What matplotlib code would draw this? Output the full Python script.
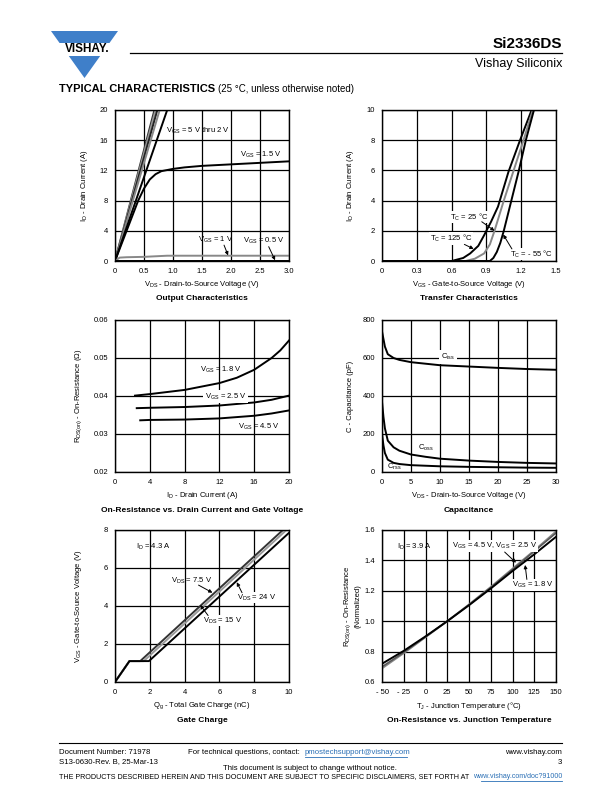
import numpy as np
import matplotlib.pyplot as plt
from matplotlib.patches import Polygon, Rectangle

plt.rcParams['font.family'] = ['Liberation Sans', 'DejaVu Sans']
plt.rcParams['mathtext.fontset'] = 'custom'
plt.rcParams['mathtext.rm'] = 'Liberation Sans'

# ---- Output characteristics ----
out_vds_lines = [[0, 0.68], [0, 0.70], [0, 0.73], [0, 0.77], [0, 0.90]]
out_id_lines = [[0, 20], [0, 20], [0, 20], [0, 20], [0, 20]]
out_line_colors = ['#333333', '#999999', '#222222', '#888888', '#000000']
out_vds_15 = [0, 0.1, 0.2, 0.3, 0.4, 0.5, 0.6, 0.7, 0.8, 0.9, 1.0, 1.2, 1.5, 2.0, 2.5, 3.0]
out_id_15 = [0, 2, 4, 6, 8, 9.6, 10.8, 11.5, 11.9, 12.05, 12.2, 12.4, 12.6, 12.8, 13.0, 13.2]
out_vds_1 = [0, 0.08, 0.2, 0.5, 0.9, 1.0, 3.0]
out_id_1 = [0, 0.45, 0.5, 0.55, 0.7, 0.7, 0.7]
out_vds_05 = [0, 3.0]
out_id_05 = [0.03, 0.03]

# ---- Transfer characteristics ----
tr_vgs_125 = [0, 0.6, 0.7, 0.76, 0.83, 0.88, 0.94, 1.0, 1.09, 1.19, 1.29]
tr_id_125 = [0, 0, 0.2, 0.5, 1.0, 1.7, 2.6, 3.6, 5.9, 8.0, 10]
tr_vgs_25 = [0, 0.72, 0.8, 0.88, 0.93, 0.97, 1.05, 1.135, 1.22, 1.30]
tr_id_25 = [0, 0, 0.15, 0.5, 1.1, 2.0, 4.0, 6.0, 8.0, 10]
tr_vgs_m55 = [0, 0.93, 0.96, 0.99, 1.02, 1.05, 1.115, 1.18, 1.24, 1.31]
tr_id_m55 = [0, 0, 0.2, 0.6, 1.2, 2.0, 4.0, 6.0, 8.0, 10]

# ---- On-resistance vs drain current ----
rd_id_18 = [2.3, 4, 8, 12, 14, 16, 18, 19, 20]
rd_r_18 = [0.0401, 0.0405, 0.0416, 0.0434, 0.0448, 0.0469, 0.0500, 0.0520, 0.0546]
rd_id_25 = [2.5, 4, 8, 12, 16, 18, 20]
rd_r_25 = [0.0368, 0.0369, 0.0371, 0.0375, 0.0383, 0.0390, 0.0401]
rd_id_45 = [2.9, 4, 8, 12, 16, 18, 20]
rd_r_45 = [0.0336, 0.0337, 0.0338, 0.0341, 0.0348, 0.0354, 0.0362]

# ---- Capacitance ----
cap_vds = [0, 0.25, 0.5, 1, 2, 3, 5, 7.5, 10, 15, 20, 25, 30]
cap_ciss = [740, 700, 660, 620, 600, 590, 578, 570, 562, 555, 548, 542, 538]
cap_coss = [370, 290, 230, 165, 130, 112, 92, 80, 70, 60, 53, 48, 45]
cap_crss = [200, 140, 100, 65, 48, 42, 36, 33, 30, 27, 25, 23, 22]

# ---- Gate charge ----
gc_qg_75 = [0, 0.83, 1.45, 9.65]
gc_vgs_75 = [0, 1.1, 1.1, 8.0]
gc_qg_15 = [0, 0.83, 1.65, 9.85]
gc_vgs_15 = [0, 1.1, 1.1, 8.0]
gc_qg_24 = [0, 0.83, 1.95, 10]
gc_vgs_24 = [0, 1.1, 1.1, 7.85]

# ---- On-resistance vs junction temperature ----
tj = [-50, -25, 0, 25, 50, 75, 100, 125, 150]
rt_45 = [0.69, 0.79, 0.895, 1.0, 1.11, 1.225, 1.345, 1.465, 1.59]
rt_25 = [0.70, 0.795, 0.897, 1.0, 1.108, 1.222, 1.34, 1.46, 1.58]
rt_18 = [0.72, 0.805, 0.90, 1.0, 1.105, 1.215, 1.33, 1.44, 1.555]

W, H = 612, 792
fig = plt.figure(figsize=(W / 100, H / 100), dpi=100)


def px_axes(x0, y0, x1, y1):
    return fig.add_axes([x0 / W, 1 - y1 / H, (x1 - x0) / W, (y1 - y0) / H])


def ftext(x, y, s, **kw):
    fig.text(x / W, 1 - y / H, s, **kw)


def setup(ax, xlim, ylim, xticks, yticks, xtl, ytl, xlabel, ylabel, title, ylab_off=31):
    ax.set_xlim(*xlim)
    ax.set_ylim(*ylim)
    ax.set_xticks(xticks, xtl)
    ax.set_yticks(yticks, ytl)
    ax.grid(True, color='black', lw=0.9)
    ax.set_axisbelow(True)
    ax.tick_params(length=0, labelsize=5.5, pad=5)
    for s in ax.spines.values():
        s.set_linewidth(1.0)
    ax.text(0.5, -0.155, xlabel, transform=ax.transAxes, ha='center', va='center', fontsize=5.5)
    ax.text(-ylab_off / 174, 0.5, ylabel, transform=ax.transAxes, ha='center', va='center',
            rotation=90, fontsize=5.5, linespacing=1.3)
    ax.text(0.5, -0.25, title, transform=ax.transAxes, ha='center', va='center',
            fontsize=6, fontweight='bold')


def arrow(ax, xy, xytext):
    ax.annotate('', xy=xy, xytext=xytext,
                arrowprops=dict(arrowstyle='-|>', color='black', lw=0.7, mutation_scale=5,
                                shrinkA=0, shrinkB=0))


LW = 1.4
fs = 5.5
VGS = r'$\mathregular{V_{GS}}$'
VDS = r'$\mathregular{V_{DS}}$'
TC = r'$\mathregular{T_C}$'

# Output characteristics
ax1 = px_axes(115, 110, 289, 261)
for xs, ys, c in zip(out_vds_lines, out_id_lines, out_line_colors):
    ax1.plot(xs, ys, color=c, lw=LW)
ax1.plot(out_vds_15, out_id_15, color='black', lw=LW)
ax1.plot(out_vds_1, out_id_1, color='#888888', lw=LW)
ax1.plot(out_vds_05, out_id_05, color='black', lw=LW)
setup(ax1, (0, 3), (0, 20), [0, 0.5, 1, 1.5, 2, 2.5, 3], [0, 4, 8, 12, 16, 20],
      ['0', '0.5', '1.0', '1.5', '2.0', '2.5', '3.0'], ['0', '4', '8', '12', '16', '20'],
      VDS + ' - Drain-to-Source Voltage (V)', r'$\mathregular{I_D}$ - Drain Current (A)',
      'Output Characteristics')
ax1.text(0.88, 17.2, VGS + ' = 5 V thru 2 V', fontsize=fs, va='center')
ax1.text(2.15, 14.0, VGS + ' = 1.5 V', fontsize=fs, va='center')
ax1.text(1.43, 2.8, VGS + ' = 1 V', fontsize=fs, va='center')
ax1.text(2.2, 2.6, VGS + ' = 0.5 V', fontsize=fs, va='center')
arrow(ax1, (1.95, 0.75), (1.88, 2.1))
arrow(ax1, (2.76, 0.1), (2.65, 1.9))

# Transfer characteristics
ax2 = px_axes(382, 110, 556, 261)
ax2.plot(tr_vgs_125, tr_id_125, color='black', lw=LW)
ax2.plot(tr_vgs_25, tr_id_25, color='#888888', lw=LW)
ax2.plot(tr_vgs_m55, tr_id_m55, color='black', lw=LW)
setup(ax2, (0, 1.5), (0, 10), [0, 0.3, 0.6, 0.9, 1.2, 1.5], [0, 2, 4, 6, 8, 10],
      ['0', '0.3', '0.6', '0.9', '1.2', '1.5'], ['0', '2', '4', '6', '8', '10'],
      VGS + ' - Gate-to-Source Voltage (V)', r'$\mathregular{I_D}$ - Drain Current (A)',
      'Transfer Characteristics')
ax2.text(0.59, 2.9, TC + ' = 25 °C', fontsize=fs, va='center',
         bbox=dict(facecolor='white', edgecolor='none', pad=0.5))
ax2.text(0.41, 1.5, TC + ' = 125 °C', fontsize=fs, va='center',
         bbox=dict(facecolor='white', edgecolor='none', pad=0.5))
ax2.text(1.10, 0.45, TC + ' = - 55 °C', fontsize=fs, va='center',
         bbox=dict(facecolor='white', edgecolor='none', pad=0.5))
arrow(ax2, (0.97, 2.0), (0.86, 2.6))
arrow(ax2, (1.045, 1.75), (1.12, 0.8))
arrow(ax2, (0.79, 0.8), (0.71, 1.1))

# On-resistance vs drain current
ax3 = px_axes(115, 320, 289, 472)
ax3.plot(rd_id_18, rd_r_18, color='black', lw=LW)
ax3.plot(rd_id_25, rd_r_25, color='black', lw=LW)
ax3.plot(rd_id_45, rd_r_45, color='black', lw=LW)
setup(ax3, (0, 20), (0.02, 0.06), [0, 4, 8, 12, 16, 20], [0.02, 0.03, 0.04, 0.05, 0.06],
      ['0', '4', '8', '12', '16', '20'], ['0.02', '0.03', '0.04', '0.05', '0.06'],
      r'$\mathregular{I_D}$ - Drain Current (A)',
      r'$\mathregular{R_{DS(on)}}$ - On-Resistance ($\Omega$)',
      'On-Resistance vs. Drain Current and Gate Voltage', ylab_off=36)
ax3.text(9.8, 0.0468, VGS + ' = 1.8 V', fontsize=fs, va='center')
ax3.text(10.3, 0.0398, VGS + ' = 2.5 V', fontsize=fs, va='center',
         bbox=dict(facecolor='white', edgecolor='none', pad=1))
ax3.text(14.1, 0.0318, VGS + ' = 4.5 V', fontsize=fs, va='center')

# Capacitance
ax4 = px_axes(382, 320, 556, 472)
ax4.plot(cap_vds, cap_ciss, color='black', lw=LW)
ax4.plot(cap_vds, cap_coss, color='black', lw=LW)
ax4.plot(cap_vds, cap_crss, color='black', lw=LW)
setup(ax4, (0, 30), (0, 800), [0, 5, 10, 15, 20, 25, 30], [0, 200, 400, 600, 800],
      ['0', '5', '10', '15', '20', '25', '30'], ['0', '200', '400', '600', '800'],
      VDS + ' - Drain-to-Source Voltage (V)', 'C - Capacitance (pF)', 'Capacitance')
ax4.text(10.2, 605, r'$\mathregular{C_{iss}}$', fontsize=fs, va='center',
         bbox=dict(facecolor='white', edgecolor='none', pad=1.5))
ax4.text(6.2, 128, r'$\mathregular{C_{oss}}$', fontsize=fs, va='center')
ax4.text(0.9, 26, r'$\mathregular{C_{rss}}$', fontsize=fs, va='center')

# Gate charge
ax5 = px_axes(115, 530, 289, 682)
ax5.plot(gc_qg_75, gc_vgs_75, color='#333333', lw=LW)
ax5.plot(gc_qg_15, gc_vgs_15, color='#999999', lw=LW)
ax5.plot(gc_qg_24, gc_vgs_24, color='black', lw=LW)
setup(ax5, (0, 10), (0, 8), [0, 2, 4, 6, 8, 10], [0, 2, 4, 6, 8],
      ['0', '2', '4', '6', '8', '10'], ['0', '2', '4', '6', '8'],
      r'$\mathregular{Q_g}$ - Total Gate Charge (nC)',
      r'$\mathregular{V_{GS}}$ - Gate-to-Source Voltage (V)', 'Gate Charge', ylab_off=37)
ax5.text(1.2, 7.1, r'$\mathregular{I_D}$ = 4.3 A', fontsize=fs, va='center')
ax5.text(3.2, 5.3, VDS + ' = 7.5 V', fontsize=fs, va='center')
ax5.text(7.0, 4.45, VDS + ' = 24 V', fontsize=fs, va='center',
         bbox=dict(facecolor='white', edgecolor='none', pad=0.5))
ax5.text(5.06, 3.23, VDS + ' = 15 V', fontsize=fs, va='center',
         bbox=dict(facecolor='white', edgecolor='none', pad=0.5))
arrow(ax5, (5.6, 4.7), (4.8, 5.1))
arrow(ax5, (7.0, 5.25), (7.3, 4.7))
arrow(ax5, (4.9, 4.05), (5.35, 3.5))

# On-resistance vs junction temperature
ax6 = px_axes(382, 530, 556, 682)
ax6.plot(tj, rt_45, color='#888888', lw=LW)
ax6.plot(tj, rt_25, color='#555555', lw=LW * 0.8)
ax6.plot(tj, rt_18, color='black', lw=LW)
setup(ax6, (-50, 150), (0.6, 1.6), [-50, -25, 0, 25, 50, 75, 100, 125, 150],
      [0.6, 0.8, 1.0, 1.2, 1.4, 1.6],
      ['- 50', '- 25', '0', '25', '50', '75', '100', '125', '150'],
      ['0.6', '0.8', '1.0', '1.2', '1.4', '1.6'],
      r'$\mathregular{T_J}$ - Junction Temperature (°C)',
      r'$\mathregular{R_{DS(on)}}$ - On-Resistance' + '\n(Normalized)',
      'On-Resistance vs. Junction Temperature', ylab_off=30)
ax6.text(-33, 1.49, r'$\mathregular{I_D}$ = 3.9 A', fontsize=fs, va='center')
ax6.text(30.5, 1.495, VGS + ' = 4.5 V, ' + VGS + ' = 2.5 V', fontsize=fs, va='center',
         bbox=dict(facecolor='white', edgecolor='none', pad=0.5))
ax6.text(99.4, 1.24, VGS + ' = 1.8 V', fontsize=fs, va='center',
         bbox=dict(facecolor='white', edgecolor='none', pad=0.5))
arrow(ax6, (104, 1.385), (91, 1.455))
arrow(ax6, (114.5, 1.37), (116.5, 1.275))

# ---- page header ----
blue = '#3f7fc9'
fig.patches.append(Polygon([(51 / W, 1 - 31 / H), (118 / W, 1 - 31 / H), (84.5 / W, 1 - 78 / H)],
                           closed=True, transform=fig.transFigure, facecolor=blue, edgecolor='none'))
fig.patches.append(Rectangle((45 / W, 1 - 56 / H), 80 / W, 13 / H, transform=fig.transFigure,
                             facecolor='white', edgecolor='none'))
ftext(87, 49.5, 'VISHAY.', fontsize=8.5, fontweight='bold', ha='center', va='center')
fig.add_artist(plt.Line2D([130 / W, 562 / W], [1 - 53 / H, 1 - 53 / H], color='black', lw=0.9))
ftext(562, 44, 'Si2336DS', fontsize=11, fontweight='bold', ha='right', va='center')
ftext(562, 64, 'Vishay Siliconix', fontsize=9, ha='right', va='center')
ftext(59, 89.5, 'TYPICAL CHARACTERISTICS', fontsize=8, fontweight='bold', va='center')
ftext(218, 89.5, '(25 °C, unless otherwise noted)', fontsize=7, va='center')

# ---- page footer ----
fig.add_artist(plt.Line2D([59 / W, 562 / W], [1 - 743 / H, 1 - 743 / H], color='black', lw=0.8))
ffs = 5.6
ftext(59, 752, 'Document Number: 71978', fontsize=ffs, va='center')
ftext(59, 762, 'S13-0630-Rev. B, 25-Mar-13', fontsize=ffs, va='center')
ftext(188, 752, 'For technical questions, contact: ', fontsize=ffs, va='center')
ftext(305, 752, 'pmostechsupport@vishay.com', fontsize=ffs, va='center', color='#2a6fb5')
fig.add_artist(plt.Line2D([305 / W, 407 / W], [1 - 756.5 / H, 1 - 756.5 / H], color='#2a6fb5', lw=0.6))
ftext(562, 752, 'www.vishay.com', fontsize=ffs, ha='right', va='center')
ftext(562, 762, '3', fontsize=ffs, ha='right', va='center')
ftext(310, 768.5, 'This document is subject to change without notice.', fontsize=ffs, ha='center', va='center')
ftext(59, 776.5, 'THE PRODUCTS DESCRIBED HEREIN AND THIS DOCUMENT ARE SUBJECT TO SPECIFIC DISCLAIMERS, SET FORTH AT',
      fontsize=5.1, va='center')
ftext(562, 776.5, 'www.vishay.com/doc?91000', fontsize=5.1, ha='right', va='center', color='#2a6fb5')
fig.add_artist(plt.Line2D([481 / W, 562 / W], [1 - 780.5 / H, 1 - 780.5 / H], color='#2a6fb5', lw=0.6))

fig.savefig('out.png', dpi=100)
